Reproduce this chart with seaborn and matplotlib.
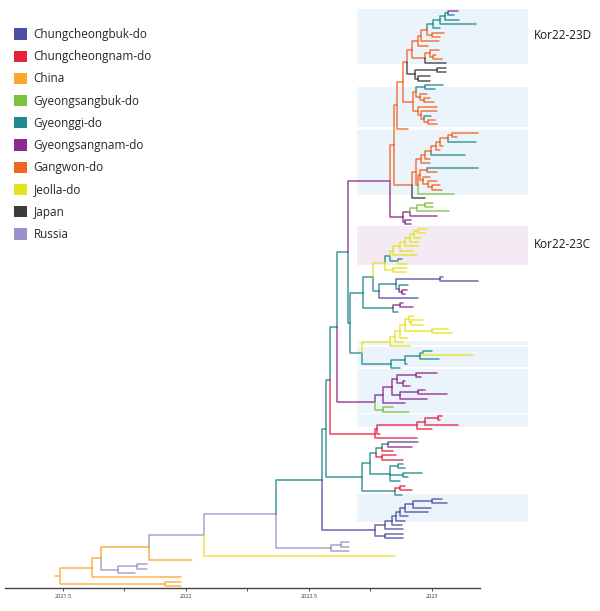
import matplotlib
matplotlib.use("Agg")
import matplotlib.pyplot as plt
from matplotlib.patches import Patch, Rectangle
import pandas as pd
import seaborn as sns

# ---------------- data ----------------
region_codes = ["CB", "CN", "CH", "GB", "GG", "GN", "GW", "JL", "JP", "RU"]
region_names = ["Chungcheongbuk-do", "Chungcheongnam-do", "China", "Gyeongsangbuk-do",
                "Gyeonggi-do", "Gyeongsangnam-do", "Gangwon-do", "Jeolla-do", "Japan", "Russia"]
region_colors = ["#4c4fa3", "#e8213b", "#fba72e", "#7cc243", "#20898c",
                 "#8b2a8f", "#f26424", "#e6e21e", "#3b3b3b", "#9c91ca"]

tick_values = [2021.5, 2021.75, 2022.0, 2022.25, 2022.5, 2022.75, 2023.0]
tick_labels = ["2021.5", "", "2022", "", "2022.5", "", "2023"]

clade_names = ["Kor22-23D", "Kor22-23C"]
clade_label_rows = [5.7, 53.5]
# highlight boxes (leaf-row ranges) and their colours
box_rows = [(-0.46, 12.17), (17.4, 26.6), (27.4, 42.3), (49.4, 58.4),
            (75.8, 76.7), (77.1, 81.7), (82.2, 92.3), (92.5, 95.5), (110.9, 117.3)]
box_kinds = ["D", "D", "D", "C", "D", "D", "D", "D", "D"]
box_time_range = (2022.695, 2023.390)

# tree: internal node = (region, date, [children]); tip = (region, date)
# --- Kor22-23D, upper part
T4 = ("GG", 2023.065, [("GN", 2023.106), ("GG", 2023.089)])
T3 = ("GG", 2023.053, [T4, ("GG", 2023.110)])
T2 = ("GG", 2023.033, [T3, ("GG", 2023.179)])
T1 = ("GG", 2023.004, [T2, ("GG", 2023.033)])
D10 = ("GW", 2023.000, [("GW", 2023.049), ("GW", 2023.033)])
D9 = ("GW", 2022.980, [T1, D10])
D8 = ("GW", 2022.955, [D9, ("GW", 2023.028)])
D7 = ("GW", 2022.943, [D8, ("GW", 2022.984)])
D12 = ("GW", 2023.004, [("GW", 2023.016), ("GW", 2023.041)])
D11 = ("GW", 2022.992, [("GW", 2023.028), D12])
D6 = ("GW", 2022.972, [D11, ("JP", 2023.057)])
D5 = ("GW", 2022.919, [D7, D6])
J2 = ("JP", 2023.020, [("JP", 2023.057), ("JP", 2023.057)])
J3 = ("JP", 2022.943, [("JP", 2022.992), ("JP", 2022.992)])
J1 = ("JP", 2022.931, [J2, J3])
D4 = ("GW", 2022.898, [D5, J1])
# --- Kor22-23D, second box
B3 = ("GG", 2022.972, [("GG", 2023.045), ("GG", 2023.012)])
B4b = ("GW", 2022.967, [("GW", 2022.992), ("GW", 2023.008)])
B4 = ("GW", 2022.951, [("GW", 2022.980), B4b])
B2 = ("GW", 2022.935, [B3, B4])
B5d = ("GW", 2022.984, [("GW", 2023.012), ("GW", 2023.020)])
B5c = ("GW", 2022.967, [("GG", 2022.996), B5d])
B5b = ("GW", 2022.955, [("GW", 2023.020), B5c])
B5 = ("GW", 2022.943, [("GW", 2023.020), B5b])
B1 = ("GW", 2022.923, [B2, B5])
D3 = ("GW", 2022.882, [D4, B1])
D2 = ("GW", 2022.858, [D3, ("GW", 2022.902)])
# --- Kor22-23D, third box
CU7 = ("GW", 2023.081, [("GW", 2023.187), ("GW", 2023.102)])
CU6 = ("GW", 2023.065, [CU7, ("GG", 2023.179)])
CU5 = ("GW", 2023.033, [CU6, ("GW", 2023.045)])
CU4 = ("GW", 2023.016, [CU5, ("GW", 2023.033)])
CU3 = ("GW", 2022.996, [CU4, ("GG", 2023.134)])
CU2 = ("GW", 2022.972, [CU3, ("GW", 2022.992)])
CU = ("GW", 2022.955, [CU2, ("GW", 2022.992)])
CL3 = ("GW", 2022.980, [("GG", 2023.187), ("GW", 2023.020)])
CL6 = ("GW", 2023.000, [("GW", 2023.033), ("GW", 2023.041)])
CL5 = ("GW", 2022.984, [("GW", 2023.020), CL6])
CL4 = ("GW", 2022.963, [("GW", 2022.992), CL5])
CL2 = ("GW", 2022.951, [CL3, CL4])
CL = ("GW", 2022.943, [CL2, ("GB", 2023.089)])
C3 = ("GW", 2022.935, [CU, CL])
C2 = ("GW", 2022.919, [C3, ("JP", 2022.972)])
D1 = ("GW", 2022.846, [D2, C2])
# --- Gyeongsangnam / Gyeongsangbuk group
G2 = ("GB", 2022.972, [("GB", 2023.004), ("GB", 2023.004)])
G1 = ("GB", 2022.939, [G2, ("GB", 2023.069)])
P2 = ("GN", 2022.911, [G1, ("GN", 2023.020)])
P4 = ("GN", 2022.890, [("GN", 2022.915), ("GN", 2022.915)])
P1 = ("GN", 2022.882, [P2, P4])
D0 = ("GN", 2022.829, [D1, P1])
# --- Kor22-23C (Jeolla-do)
Y10 = ("JL", 2022.943, [("JL", 2022.980), ("JL", 2022.972)])
Y9 = ("JL", 2022.927, [Y10, ("JL", 2022.955)])
Y8 = ("JL", 2022.911, [Y9, ("JL", 2022.943)])
Y7 = ("JL", 2022.890, [Y8, ("JL", 2022.947)])
Y6 = ("JL", 2022.870, [Y7, ("JL", 2022.923)])
Y5 = ("JL", 2022.841, [Y6, ("JL", 2022.939)])
Y4t = ("GG", 2022.862, [("GG", 2022.878), ("JL", 2022.898)])
Y2 = ("GG", 2022.829, [Y5, Y4t])
Y3 = ("JL", 2022.841, [("JL", 2022.898), ("JL", 2022.894)])
Y1 = ("JL", 2022.809, [Y2, Y3])
BL2 = ("CB", 2023.033, [("CB", 2023.045), ("CB", 2023.187)])
M7 = ("GN", 2022.878, [("GN", 2022.898), ("GN", 2022.890)])
M6 = ("GG", 2022.866, [("GG", 2022.902), M7])
M5 = ("GG", 2022.854, [BL2, M6])
M4 = ("GG", 2022.785, [M5, ("CB", 2022.943)])
M3 = ("GG", 2022.760, [Y1, M4])
MPp = ("GN", 2022.870, [("GN", 2022.882), ("GN", 2022.923)])
MP = ("GG", 2022.841, [MPp, ("GG", 2022.862)])
M1 = ("GG", 2022.719, [M3, MP])
# --- second Jeolla-do group and Gyeonggi-do
YB5b = ("JL", 2022.915, [("JL", 2022.963), ("JL", 2022.963)])
YB5 = ("JL", 2022.907, [("JL", 2022.927), YB5b])
YB6 = ("JL", 2023.000, [("JL", 2023.065), ("JL", 2023.081)])
YB4 = ("JL", 2022.890, [YB5, YB6])
YB3 = ("JL", 2022.870, [YB4, ("JL", 2022.902)])
YB2 = ("JL", 2022.850, [YB3, ("JL", 2022.882)])
YB = ("JL", 2022.829, [YB2, ("JL", 2022.911)])
TY4 = ("GG", 2022.963, [("GG", 2023.000), ("JL", 2023.167)])
TY3 = ("GG", 2022.951, [TY4, ("GG", 2023.028)])
TY2 = ("GG", 2022.890, [TY3, ("GG", 2022.898)])
TY = ("GG", 2022.833, [TY2, ("GG", 2022.870)])
M2 = ("GG", 2022.715, [YB, TY])
K2 = ("GG", 2022.667, [M1, M2])
K = ("GG", 2022.659, [D0, K2])
# --- Gyeongsangnam-do group
PC4a = ("GN", 2022.935, [("GN", 2023.020), ("GN", 2022.955)])
PC4b = ("GN", 2022.882, [("GN", 2022.890), ("GN", 2022.911)])
PC4 = ("GN", 2022.858, [PC4a, PC4b])
PC6 = ("GN", 2022.943, [("GN", 2022.972), ("GN", 2023.061)])
PC5 = ("GN", 2022.870, [PC6, ("GN", 2022.980)])
PC3 = ("GN", 2022.837, [PC4, PC5])
PC2 = ("GN", 2022.801, [PC3, ("GN", 2022.890)])
PCg = ("GB", 2022.801, [("GB", 2022.841), ("GB", 2022.907)])
PC = ("GN", 2022.768, [PC2, PCg])
L = ("GG", 2022.614, [K, PC])
# --- Chungcheongnam-do group
R5 = ("CN", 2023.024, [("CN", 2023.041), ("CN", 2023.033)])
R4 = ("CN", 2022.972, [R5, ("CN", 2023.106)])
R3 = ("CN", 2022.939, [R4, ("CN", 2023.000)])
R2 = ("CN", 2022.776, [R3, ("CN", 2022.789)])
R = ("CN", 2022.768, [R2, ("CN", 2022.939)])
Q = ("GG", 2022.585, [L, R])
# --- mixed Gyeonggi-do group
S1a2 = ("GG", 2022.821, [("CB", 2022.943), ("GN", 2022.919)])
S1a1 = ("GG", 2022.797, [S1a2, ("CN", 2022.841)])
S1a3 = ("CN", 2022.797, [("CN", 2022.854), ("CN", 2022.882)])
S1a = ("GG", 2022.772, [S1a1, S1a3])
S1b1 = ("GG", 2022.862, [("GG", 2022.882), ("GG", 2022.890)])
S1b2 = ("GG", 2022.882, [("GG", 2022.959), ("GG", 2022.902)])
S1b = ("GG", 2022.829, [S1b1, S1b2, ("GG", 2022.870)])
S1 = ("GG", 2022.748, [S1a, S1b])
S2a = ("CN", 2022.870, [("CN", 2022.890), ("CN", 2022.919)])
S2 = ("GG", 2022.850, [S2a, ("GG", 2022.878)])
S = ("GG", 2022.715, [S1, S2])
Ni = ("GG", 2022.569, [Q, S])
# --- Chungcheongbuk-do group
BC7 = ("CB", 2023.000, [("CB", 2023.041), ("CB", 2023.061)])
BC6b = ("CB", 2022.923, [BC7, ("CB", 2022.996)])
BC6 = ("CB", 2022.890, [BC6b, ("CB", 2022.984)])
BC5 = ("CB", 2022.870, [BC6, ("CB", 2022.902)])
BC4 = ("CB", 2022.854, [BC5, ("CB", 2022.890)])
BC3 = ("CB", 2022.837, [BC4, ("CB", 2022.878)])
BC2 = ("CB", 2022.809, [BC3, ("CB", 2022.882)])
BCz = ("CB", 2022.809, [("CB", 2022.882), ("CB", 2022.882)])
BC = ("CB", 2022.768, [BC2, BCz])
Nh = ("GG", 2022.553, [Ni, BC])
# --- backbone
RUc2 = ("RU", 2022.630, [("RU", 2022.663), ("RU", 2022.663)])
RUc = ("RU", 2022.589, [RUc2, ("RU", 2022.663)])
Ng = ("RU", 2022.366, [Nh, RUc])
Nf = ("RU", 2022.073, [Ng, ("JL", 2022.850)])
Ne = ("CH", 2021.850, [Nf, ("CH", 2022.024)])
Nd2 = ("RU", 2021.801, [("RU", 2021.841), ("RU", 2021.841)])
Nd = ("RU", 2021.724, [Nd2, ("RU", 2021.793)])
Nc = ("CH", 2021.654, [Ne, Nd])
Nb = ("CH", 2021.618, [Nc, ("CH", 2021.980)])
Na = ("CH", 2021.915, [("CH", 2021.980), ("CH", 2021.980)])
tree_root = ("CH", 2021.488, [Nb, Na])
root_stem_date = 2021.467

# ---------------- layout ----------------
counter = [0]


def walk(node):
    if len(node) == 2:
        y = float(counter[0])
        counter[0] += 1
        return y, []
    results = [walk(c) for c in node[2]]
    y = (results[0][0] + results[-1][0]) / 2.0
    segs = []
    for child, (cy, csegs) in zip(node[2], results):
        segs.append((child[0], node[1], y, child[1], cy))
        segs.extend(csegs)
    return y, segs


root_y, tree_segs = walk(tree_root)
segments = [(tree_root[0], root_stem_date, root_y, tree_root[1], root_y)] + tree_segs

rows = []
for k, (reg, x0, y0, x1, y1) in enumerate(segments):
    rows.append((k, 0, x0, y0, reg))
    rows.append((k, 1, x0, y1, reg))
    rows.append((k, 2, x1, y1, reg))
df = pd.DataFrame(rows, columns=["seg", "pt", "x", "y", "region"])

# ---------------- plot ----------------
sns.set_theme(style="white")
plt.rcParams["font.family"] = ["Open Sans", "DejaVu Sans"]

fig = plt.figure(figsize=(6.0, 6.11), dpi=100)
ax = fig.add_axes([0, 0, 1, 1])

palette = dict(zip(region_codes, region_colors))
box_colors = {"D": "#eaf4fa", "C": "#f4eaf4"}
for (r0, r1), kind in zip(box_rows, box_kinds):
    ax.add_patch(Rectangle((box_time_range[0], r0), box_time_range[1] - box_time_range[0],
                           r1 - r0, facecolor=box_colors[kind], edgecolor="none", zorder=0))

sns.lineplot(data=df, x="x", y="y", hue="region", units="seg", estimator=None,
             sort=False, palette=palette, legend=False, linewidth=1.1, alpha=0.85,
             ax=ax, zorder=2)

ax.set_xlim(2021.244, 2023.683)
ax.set_ylim(137.74, -2.525)
ax.set_xlabel("")
ax.set_ylabel("")
ax.set_yticks([])
for side in ["top", "right", "left"]:
    ax.spines[side].set_visible(False)
ax.spines["bottom"].set_position(("data", 132.46))
ax.spines["bottom"].set_bounds(2021.264, 2023.195)
ax.spines["bottom"].set_color("#444444")
ax.spines["bottom"].set_linewidth(1.0)
ax.set_xticks(tick_values)
ax.set_xticklabels(tick_labels)
ax.tick_params(axis="x", bottom=True, direction="out", length=2.5, width=0.6,
               labelsize=4, pad=2, colors="#333333")

for name, row in zip(clade_names, clade_label_rows):
    ax.text(2023.415, row, name, ha="left", va="center", fontsize=8.5, color="#1a1a1a")

handles = [Patch(facecolor=c, edgecolor="none", label=n) for c, n in zip(region_colors, region_names)]
ax.legend(handles=handles, loc="upper left", bbox_to_anchor=(14 / 600, 1 - 28 / 611),
          frameon=False, fontsize=8.5, handlelength=1.1, handleheight=1.1,
          handletextpad=0.55, labelspacing=0.78, borderpad=0, borderaxespad=0)

fig.savefig("out.png", dpi=100)
